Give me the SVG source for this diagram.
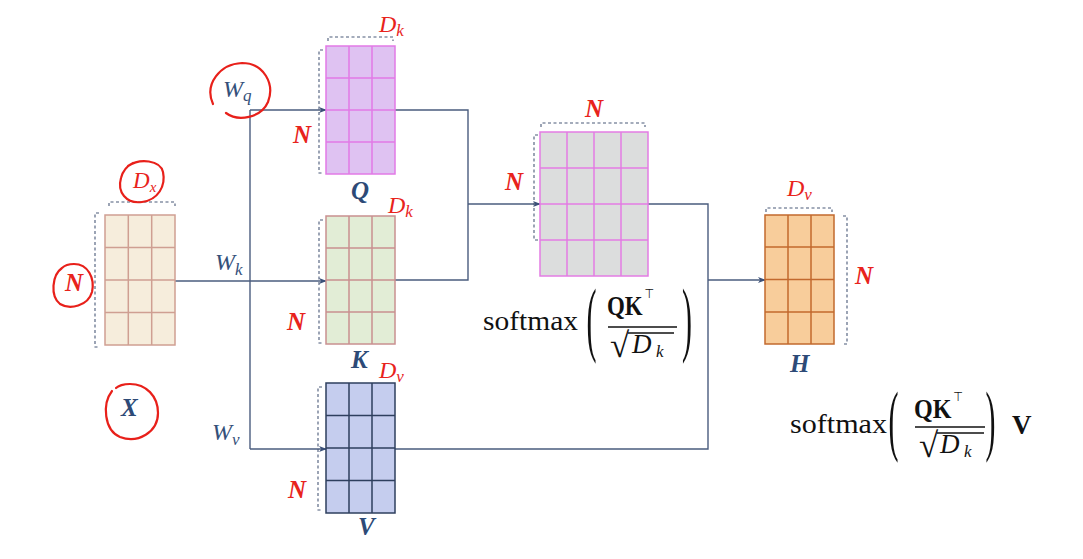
<svg xmlns="http://www.w3.org/2000/svg" width="1083" height="559" viewBox="0 0 1083 559">
<defs>
<marker id="arr" viewBox="0 0 10 10" refX="9" refY="5" markerWidth="8" markerHeight="8" markerUnits="userSpaceOnUse" orient="auto">
<path d="M0,1 L10,5 L0,9 L3,5 Z" fill="#3b5078"/>
</marker>
</defs>
<style>
.con{fill:none;stroke:#4a5c7e;stroke-width:1.4}
.br{fill:none;stroke:#4a5a78;stroke-width:1.1;stroke-dasharray:3 2.5}
.red{fill:#e8231c;font-family:"Liberation Serif",serif;font-style:italic}
.redb{fill:#e8231c;font-family:"Liberation Serif",serif;font-style:italic;font-weight:bold;font-size:25px}
.nav{fill:#2d4a77;font-family:"Liberation Serif",serif;font-style:italic;font-weight:bold;font-size:25px}
.w{fill:#34507a;font-family:"Liberation Serif",serif;font-style:italic}
.circ{fill:none;stroke:#e8201a;stroke-width:2.2;stroke-linecap:round}
.math{fill:#111;font-family:"Liberation Serif",serif}
.mb{fill:#111;font-family:"Liberation Serif",serif;font-weight:bold}
.mi{fill:#111;font-family:"Liberation Serif",serif;font-style:italic}
.sup{font-family:"DejaVu Sans",sans-serif;font-weight:normal;font-size:13px}
.rule{stroke:#111;stroke-width:1.4}
</style>
<rect width="1083" height="559" fill="#ffffff"/>

<g id="connectors">
<path class="con" d="M175,281 H326" marker-end="url(#arr)"/>
<path class="con" d="M250,110 V449"/>
<path class="con" d="M250,110 H326" marker-end="url(#arr)"/>
<path class="con" d="M250,449 H326" marker-end="url(#arr)"/>
<path class="con" d="M395,110 H468 V280 H395"/>
<path class="con" d="M468,204 H540" marker-end="url(#arr)"/>
<path class="con" d="M648,204 H708 V449 H395"/>
<path class="con" d="M708,280 H765" marker-end="url(#arr)"/>
</g>

<g id="X">
<rect x="105" y="215" width="70" height="130" fill="#f6eddc" stroke="#cf9f92" stroke-width="1.5"/>
<path d="M128.3,215V345M151.7,215V345M105,247.5H175M105,280H175M105,312.5H175" stroke="#cf9f92" stroke-width="1.5"/>
<path class="br" d="M109,206V202H175V206"/>
<path class="br" d="M99,213H95V347H99"/>
<text class="red" x="133" y="188" font-size="23">D<tspan font-size="15" dy="4">x</tspan></text>
<text class="redb" x="65" y="291">N</text>
<text class="nav" x="121" y="416">X</text>
<path class="circ" d="M128,166 C140,158 160,160 163,172 C166,186 158,200 142,202 C126,204 117,192 121,178 C123,170 127,166 133,163"/>
<path class="circ" d="M62,268 C52,275 50,296 60,304 C70,310 88,306 92,292 C95,278 88,264 74,264 C68,264 64,266 62,268"/>
<path class="circ" d="M112,391 C102,404 104,430 120,437 C138,444 158,432 158,413 C158,396 146,384 130,384 C124,384 118,386 116,388"/>
</g>

<g id="Q">
<rect x="326" y="46" width="69" height="128" fill="#dfc2f2" stroke="#e27ae6" stroke-width="1.5"/>
<path d="M349,46V174M372,46V174M326,78H395M326,110H395M326,142H395" stroke="#e27ae6" stroke-width="1.5"/>
<path class="br" d="M328,41V37H393V41"/>
<path class="br" d="M323,50H319V173H323"/>
<text class="red" x="379" y="32" font-size="24">D<tspan font-size="17" dy="4">k</tspan></text>
<text class="redb" x="293" y="143">N</text>
<text class="nav" x="351" y="199">Q</text>
</g>

<g id="Wq">
<text class="w" x="223" y="97" font-size="24">W<tspan font-size="17" dy="4">q</tspan></text>
<path class="circ" d="M213,104 C204,84 220,64 242,63 C264,63 275,84 268,102 C261,118 238,122 226,113"/>
</g>
<g id="Wk">
<text class="w" x="215" y="270" font-size="24">W<tspan font-size="17" dy="5">k</tspan></text>
</g>
<g id="Wv">
<text class="w" x="212" y="440" font-size="24">W<tspan font-size="17" dy="5">v</tspan></text>
</g>

<g id="K">
<rect x="326" y="216" width="69" height="128" fill="#e2edd6" stroke="#c99090" stroke-width="1.5"/>
<path d="M349,216V344M372,216V344M326,248H395M326,280H395M326,312H395" stroke="#c99090" stroke-width="1.5"/>
<path class="br" d="M323,220H319V343H323"/>
<text class="red" x="388" y="213" font-size="24">D<tspan font-size="17" dy="4">k</tspan></text>
<text class="redb" x="287" y="330">N</text>
<text class="nav" x="351" y="368">K</text>
</g>

<g id="V">
<rect x="326" y="383" width="69" height="130" fill="#c5cdee" stroke="#2e3f5e" stroke-width="1.5"/>
<path d="M349,383V513M372,383V513M326,415.5H395M326,448H395M326,480.5H395" stroke="#2e3f5e" stroke-width="1.5"/>
<path class="br" d="M322,387H318V510H322"/>
<text class="red" x="379" y="378" font-size="24">D<tspan font-size="17" dy="4">v</tspan></text>
<text class="redb" x="288" y="498">N</text>
<text class="nav" x="358" y="535">V</text>
</g>

<g id="A">
<rect x="540" y="132" width="108" height="144" fill="#dcdddd" stroke="#e37ce3" stroke-width="1.5"/>
<path d="M567,132V276M594,132V276M621,132V276M540,168H648M540,204H648M540,240H648" stroke="#e37ce3" stroke-width="1.5"/>
<path class="br" d="M541,127V123H645V127"/>
<path class="br" d="M538,135H534V240H538"/>
<text class="redb" x="585" y="117">N</text>
<text class="redb" x="505" y="190">N</text>
</g>

<g id="formula1">
<text class="math" x="483" y="330" font-size="28" textLength="95" lengthAdjust="spacingAndGlyphs">softmax</text>
<text class="math" font-size="30" transform="translate(586.5,345.6) scale(1,2.74)">(</text>
<text class="mb" font-size="27" transform="translate(607,315) scale(0.85,1)">QK<tspan class="sup" dx="2" dy="-17">⊤</tspan></text>
<line class="rule" x1="608" y1="327" x2="677" y2="327"/>
<text class="math" x="610" y="357" font-size="35" font-family="DejaVu Serif">√</text>
<line class="rule" x1="628" y1="333" x2="674" y2="333"/>
<text class="mi" x="632" y="353" font-size="27">D</text>
<text class="mi" x="656" y="357" font-size="17">k</text>
<text class="math" font-size="30" transform="translate(682,345.6) scale(1,2.74)">)</text>
</g>

<g id="H">
<rect x="765" y="215" width="69" height="129" fill="#f8cd9b" stroke="#c2692e" stroke-width="1.5"/>
<path d="M788,215V344M811,215V344M765,247H834M765,279.5H834M765,312H834" stroke="#c2692e" stroke-width="1.5"/>
<path class="br" d="M766,212V208H832V212"/>
<path class="br" d="M843,216H847V344H843"/>
<text class="red" x="787" y="196" font-size="24">D<tspan font-size="17" dy="4">v</tspan></text>
<text class="redb" x="855" y="284">N</text>
<text class="nav" x="790" y="372">H</text>
</g>

<g id="formula2">
<text class="math" x="790" y="433" font-size="28" textLength="97" lengthAdjust="spacingAndGlyphs">softmax</text>
<text class="math" font-size="30" transform="translate(888.5,446) scale(1,2.62)">(</text>
<text class="mb" font-size="28" transform="translate(914,418) scale(0.86,1)">QK<tspan class="sup" dx="2" dy="-17">⊤</tspan></text>
<line class="rule" x1="915" y1="427" x2="985" y2="427"/>
<text class="math" x="919" y="457" font-size="35" font-family="DejaVu Serif">√</text>
<line class="rule" x1="937" y1="433" x2="984" y2="433"/>
<text class="mi" x="940" y="453" font-size="27">D</text>
<text class="mi" x="964" y="457" font-size="17">k</text>
<text class="math" font-size="30" transform="translate(985.5,446) scale(1,2.62)">)</text>
<text class="mb" x="1012" y="434" font-size="27">V</text>
</g>
</svg>
